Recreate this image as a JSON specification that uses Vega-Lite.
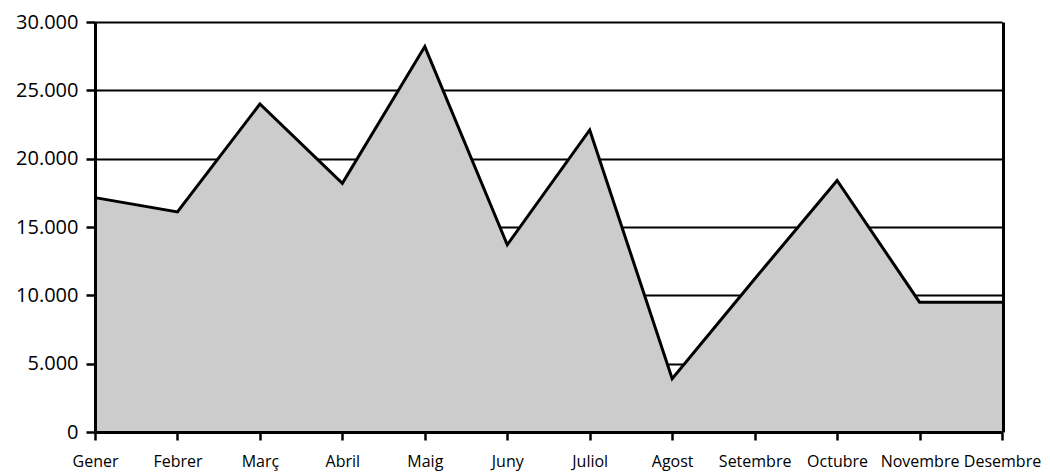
{
  "$schema": "https://vega.github.io/schema/vega-lite/v6.json",
  "width": 907,
  "height": 410,
  "autosize": {"type": "none"},
  "padding": {"left": 95, "top": 22, "right": 48, "bottom": 41},
  "background": "white",
  "config": {
    "locale": {"number": {"decimal": ",", "thousands": ".", "grouping": [3], "currency": ["", " €"]}},
    "font": "Open Sans",
    "view": {"stroke": null},
    "axis": {"labelColor": "black", "labelFont": "Open Sans"}
  },
  "data": {
    "values": [
      {"mes": "Gener", "valor": 17150},
      {"mes": "Febrer", "valor": 16100},
      {"mes": "Març", "valor": 24000},
      {"mes": "Abril", "valor": 18200},
      {"mes": "Maig", "valor": 28200},
      {"mes": "Juny", "valor": 13700},
      {"mes": "Juliol", "valor": 22100},
      {"mes": "Agost", "valor": 3900},
      {"mes": "Setembre", "valor": 11200},
      {"mes": "Octubre", "valor": 18400},
      {"mes": "Novembre", "valor": 9500},
      {"mes": "Desembre", "valor": 9500}
    ]
  },
  "encoding": {
    "x": {
      "field": "mes",
      "type": "ordinal",
      "sort": null,
      "scale": {"type": "point", "padding": 0},
      "axis": {
        "title": null,
        "labelAngle": 0,
        "labelFontSize": 16,
        "labelPadding": 13,
        "tickSize": 8,
        "tickWidth": 2.5,
        "tickColor": "black",
        "domainColor": "black",
        "domainWidth": 3,
        "grid": false,
        "zindex": 1
      }
    },
    "y": {
      "field": "valor",
      "type": "quantitative",
      "scale": {"domain": [0, 30000], "nice": false}
    }
  },
  "layer": [
    {
      "mark": {"type": "area", "color": "#cccccc", "opacity": 1},
      "encoding": {
        "y": {
          "field": "valor",
          "type": "quantitative",
          "axis": {
            "orient": "right",
            "title": null,
            "labels": false,
            "ticks": false,
            "grid": true,
            "gridColor": "black",
            "gridWidth": 2,
            "gridOpacity": 1,
            "values": [5000, 10000, 15000, 20000, 25000, 30000],
            "domain": true,
            "domainColor": "black",
            "domainWidth": 3,
            "offset": 1,
            "zindex": 0
          }
        }
      }
    },
    {
      "mark": {"type": "line", "color": "black", "strokeWidth": 3, "strokeJoin": "miter"},
      "encoding": {
        "y": {
          "field": "valor",
          "type": "quantitative",
          "axis": {
            "orient": "left",
            "title": null,
            "grid": false,
            "format": ",d",
            "values": [0, 5000, 10000, 15000, 20000, 25000, 30000],
            "labelFontSize": 20,
            "labelPadding": 8,
            "tickSize": 9,
            "tickWidth": 2.5,
            "tickColor": "black",
            "domainColor": "black",
            "domainWidth": 3,
            "zindex": 1
          }
        }
      }
    }
  ],
  "resolve": {"axis": {"y": "independent"}}
}
